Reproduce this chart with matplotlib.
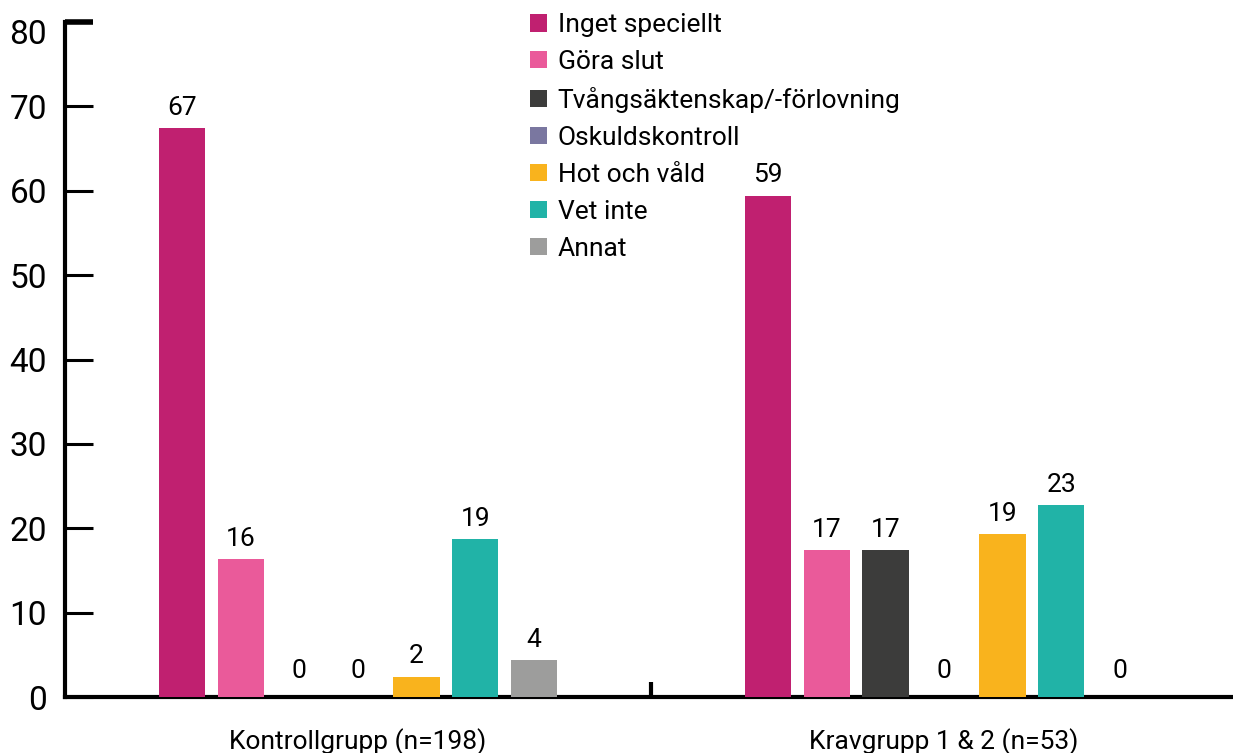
import numpy as np
import matplotlib.pyplot as plt
import matplotlib.transforms as mtransforms
from matplotlib.patches import Patch

plt.rcParams['font.family'] = ['Roboto', 'DejaVu Sans']

groups = ['Kontrollgrupp (n=198)', 'Kravgrupp 1 & 2 (n=53)']
series = ['Inget speciellt', 'Göra slut', 'Tvångsäktenskap/-förlovning',
          'Oskuldskontroll', 'Hot och våld', 'Vet inte', 'Annat']
colors = ['#C02070', '#EA5A9A', '#3C3C3B', '#7A77A0', '#F9B31D', '#21B3A7', '#9D9D9C']

kontroll = [67.4, 16.3, 0, 0, 2.4, 18.7, 4.4]
krav = [59.4, 17.4, 17.4, 0, 19.3, 22.7, 0]
values = np.array([kontroll, krav])

fig = plt.figure(figsize=(12.33, 7.53), dpi=100)
ax = fig.add_axes([65/1233, 56/753, (1237 - 65)/1233, 675/753])

x = np.arange(len(groups))
step = 0.1
width = 0.079
for i, (name, c) in enumerate(zip(series, colors)):
    pos = x + (i - 3) * step
    vals = values[:, i]
    ax.bar(pos, vals, width, color=c, label=name, zorder=1)
    for px, v in zip(pos, vals):
        ax.annotate(f'{v:.0f}', (px, v), xytext=(0, 6 if v > 0 else 10),
                    textcoords='offset points', ha='center', va='bottom',
                    fontsize=19)

ax.set_xlim(-0.5, 1.5)
ax.set_ylim(0, 80)
ax.set_yticks(range(0, 81, 10))
ax.tick_params(axis='y', direction='in', length=20, width=2.2, labelsize=24, pad=13)
top_tick = ax.yaxis.get_major_ticks()[-1]
top_tick.tick1line.set_markeredgewidth(4)
top_tick.label1.set_verticalalignment('top')
top_tick.label1.set_transform(top_tick.label1.get_transform() +
                              mtransforms.ScaledTranslation(0, 3/100, fig.dpi_scale_trans))
ax.set_xticks([0.5])
ax.set_xticklabels([''])
ax.tick_params(axis='x', direction='in', length=11, width=3)

for s in ['top', 'right']:
    ax.spines[s].set_visible(False)
ax.spines['left'].set_linewidth(3)
ax.spines['bottom'].set_linewidth(3)
ax.spines['bottom'].set_zorder(0.5)

for xi, g in zip(x, groups):
    ax.text(xi, -0.066, g, transform=ax.get_xaxis_transform(), ha='center', va='center',
            fontsize=19)

handles = [Patch(facecolor=c, label=n) for n, c in zip(series, colors)]
fig.legend(handles=handles, loc='upper left', bbox_to_anchor=(530/1233, 1 - 13/753),
           frameon=False, fontsize=19, handlelength=0.65, handleheight=0.65,
           handletextpad=0.4, labelspacing=0.49, borderpad=0, borderaxespad=0)

fig.savefig('out.png', dpi=100)
